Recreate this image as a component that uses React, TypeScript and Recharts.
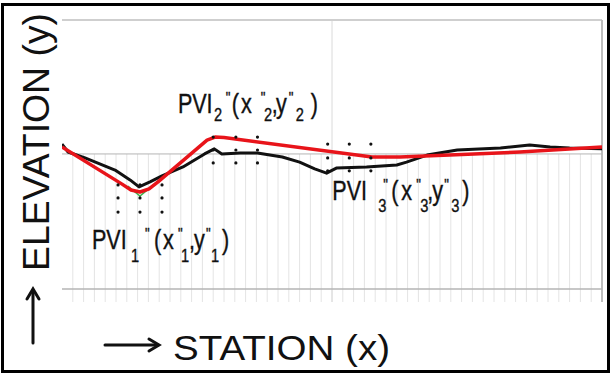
import React from "react"
import { ComposedChart, Line, XAxis, YAxis, ReferenceLine, ReferenceDot } from "recharts"

// existing ground profile (black)
const groundStation = [0, 0.56, 2.13, 4.91, 6.3, 7.13, 8.15, 9.26, 11.2, 13.2, 14.1, 14.8, 16.5, 18.1, 20.4, 22.0, 23.4, 24.5, 25.4, 28.2, 31.0, 31.9, 33.8, 36.6, 40.6, 43.3, 45.2, 47.0, 50]
const groundElev = [56.0, 53.2, 51.1, 46.8, 43.3, 40.8, 42.6, 44.7, 47.9, 52.5, 54.3, 52.5, 52.8, 52.8, 51.4, 49.6, 47.2, 45.7, 47.5, 47.9, 48.6, 49.6, 52.1, 53.9, 54.6, 55.7, 55.0, 54.6, 54.3]

// design grade line (red)
const designStation = [0, 5.56, 6.39, 7.22, 8.06, 8.89, 13.43, 14.17, 15.0, 28.7, 31.3, 35.9, 42.4, 50]
const designElev = [55.0, 41.8, 39.7, 39.0, 40.1, 42.6, 57.4, 58.5, 58.3, 51.4, 51.4, 52.1, 53.2, 55.0]

// tangent intersection under the first curve (green)
const tangentStation = [6.1, 7.22, 8.33]
const tangentElev = [41.1, 37.6, 41.1]

// dot grids around each PVI
const pviNames = ["1", "2", "3"]
const pviStations = [
  [5.19, 7.22, 9.26],
  [14.0, 16.1, 18.1],
  [24.6, 26.6, 28.6],
]
const pviElevs = [
  [41.5, 36.9, 31.9],
  [58.5, 53.9, 49.3],
  [56.0, 51.1, 46.5],
]

const gridStations = Array.from({ length: 49 }, (_, i) => i + 1)
const midElev = 52.5
const lowElev = 4.6

const groundData = groundStation.map((x, i) => ({ x, ground: groundElev[i] }))
const designData = designStation.map((x, i) => ({ x, design: designElev[i] }))
const tangentData = tangentStation.map((x, i) => ({ x, tangent: tangentElev[i] }))

const FONT = "'Liberation Sans', Arial, Helvetica, sans-serif"
const SQUEEZE = 0.77

// label layout: origin offset from the centre dot, subscript drop, piece offsets (screen px)
const labelLayout = [
  { dx: -48, dy: 51, sub: 13, offs: [0, 39, 53, 62, 71, 86, 89, 97, 102, 114, 119, 130] },
  { dx: -58, dy: -37, sub: 8, offs: [0, 36, 48, 54, 63, 83, 86, 94, 98, 111, 118, 133] },
  { dx: -17, dy: 42, sub: 12, offs: [0, 46, 51, 59, 69, 84, 88, 95, 100, 112, 119, 130] },
]

function PviLabel({ cx, cy, idx }: { cx: number; cy: number; idx: number }) {
  const n = pviNames[idx]
  const l = labelLayout[idx]
  const pieces: [string, number, number][] = [
    ["PVI", 28, 0],
    [n, 19, l.sub],
    ['"', 17, -9],
    ["(", 28, 0],
    ["x", 28, 0],
    ['"', 17, -9],
    [n, 19, l.sub],
    [",", 28, 0],
    ["y", 28, 0],
    ['"', 17, -9],
    [n, 19, l.sub],
    [")", 28, 0],
  ]
  return (
    <g transform={`translate(${cx + l.dx},${cy + l.dy}) scale(${SQUEEZE},1)`}>
      <text fontFamily={FONT} fill="#111" stroke="#111" strokeWidth={0.4}>
        {pieces.map(([t, fs, d], i) => (
          <tspan key={i} x={l.offs[i] / SQUEEZE} y={d} fontSize={fs}>
            {t}
          </tspan>
        ))}
      </text>
    </g>
  )
}

export default function App() {
  return (
    <div style={{ position: "absolute", left: 0, top: 0, width: 611, height: 374, background: "#fff" }}>
      <div
        style={{
          position: "absolute",
          left: 1,
          top: 3,
          width: 609,
          height: 370,
          border: "3px solid #000",
          boxSizing: "border-box",
        }}
      />
      <div style={{ position: "absolute", left: 0, top: 0 }}>
        <ComposedChart width={611} height={374} margin={{ top: 20, right: 9, bottom: 72, left: 62 }}>
          <XAxis
            type="number"
            dataKey="x"
            domain={[0, 50]}
            height={0}
            tick={false}
            tickLine={false}
            axisLine={{ stroke: "#000", strokeWidth: 3 }}
            allowDataOverflow
          />
          <YAxis
            type="number"
            domain={[0, 100]}
            width={0}
            tick={false}
            tickLine={false}
            axisLine={{ stroke: "#000", strokeWidth: 2.5 }}
            allowDataOverflow
          />
          {gridStations.map((s) => (
            <ReferenceLine
              key={`g${s}`}
              segment={[
                { x: s, y: 0 },
                { x: s, y: midElev },
              ]}
              stroke="#e4e4e4"
              strokeWidth={1}
            />
          ))}
          <ReferenceLine x={25} stroke="#dadada" strokeWidth={1} />
          <ReferenceLine y={100} stroke="#cfcfcf" strokeWidth={2} />
          <ReferenceLine x={50} stroke="#bdbdbd" strokeWidth={2} />
          <ReferenceLine y={midElev} stroke="#b5b5b5" strokeWidth={1} />
          <ReferenceLine y={lowElev} stroke="#b5b5b5" strokeWidth={1.5} />
          <Line
            data={groundData}
            dataKey="ground"
            type="linear"
            stroke="#111"
            strokeWidth={3}
            dot={false}
            strokeLinejoin="round"
            isAnimationActive={false}
          />
          <Line
            data={tangentData}
            dataKey="tangent"
            type="linear"
            stroke="#3cb44b"
            strokeWidth={1.5}
            dot={false}
            isAnimationActive={false}
          />
          <Line
            data={designData}
            dataKey="design"
            type="linear"
            stroke="#e8141a"
            strokeWidth={3.5}
            dot={false}
            strokeLinejoin="round"
            isAnimationActive={false}
          />
          {pviStations.map((xs, k) =>
            xs.flatMap((x) =>
              pviElevs[k].map((y) => (
                <ReferenceDot key={`d${k}-${x}-${y}`} x={x} y={y} r={1.6} fill="#111" stroke="none" />
              ))
            )
          )}
          {pviNames.map((n, k) => (
            <ReferenceDot
              key={`l${n}`}
              x={pviStations[k][1]}
              y={pviElevs[k][1]}
              r={0}
              shape={(p: any) => <PviLabel cx={p.cx} cy={p.cy} idx={k} />}
            />
          ))}
        </ComposedChart>
      </div>
      <svg
        width={611}
        height={374}
        style={{ position: "absolute", left: 0, top: 0, pointerEvents: "none" }}
      >
        <text
          transform="translate(49,142) rotate(-90)"
          textAnchor="middle"
          fontFamily={FONT}
          fontSize={36}
          textLength={258}
          lengthAdjust="spacingAndGlyphs"
          fill="#111"
        >
          ELEVATION (y)
        </text>
        <g stroke="#111" strokeWidth={3} fill="none" strokeLinecap="round">
          <line x1={33} y1={343} x2={33} y2={290} />
          <polyline points="27,299 33,289 39,299" />
          <line x1={105} y1={345} x2={158} y2={345} />
          <polyline points="149,339 159,345 149,351" />
        </g>
        <text
          x={173}
          y={360}
          fontFamily={FONT}
          fontSize={35}
          textLength={217}
          lengthAdjust="spacingAndGlyphs"
          fill="#111"
        >
          STATION (x)
        </text>
      </svg>
    </div>
  )
}
